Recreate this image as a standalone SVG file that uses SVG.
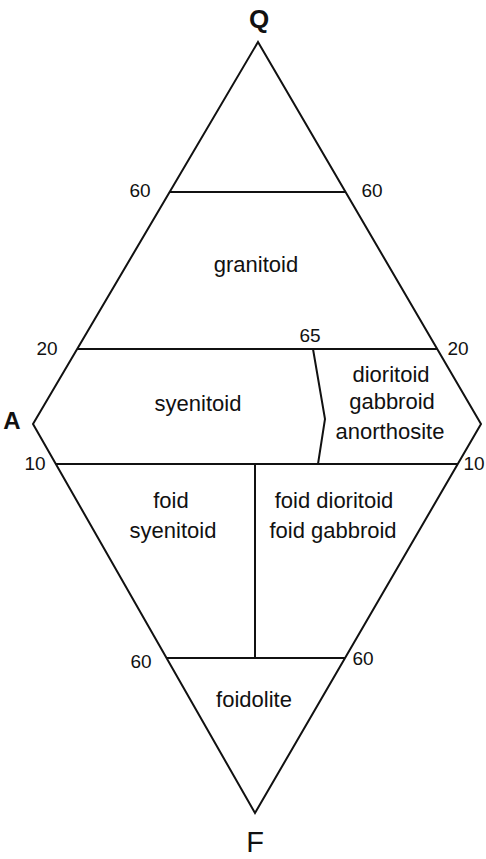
<svg xmlns="http://www.w3.org/2000/svg" width="486" height="859" viewBox="0 0 486 859">
<style>
.ln{fill:none;stroke:#111;stroke-width:2;stroke-linejoin:miter}
.lbl{font-family:"Liberation Sans",Arial,sans-serif;font-size:22px;fill:#111;text-anchor:middle}
.num{font-family:"Liberation Sans",Arial,sans-serif;font-size:19px;fill:#111;text-anchor:middle}
.apex{font-family:"Liberation Sans",Arial,sans-serif;fill:#111;text-anchor:middle}
</style>
<rect width="486" height="859" fill="#fff"/>
<g id="connectors">
<polygon class="ln" points="258,42 481,424 255,813 33,424"/>
<line class="ln" x1="170" y1="192" x2="346" y2="192"/>
<line class="ln" x1="77" y1="349" x2="437" y2="349"/>
<line class="ln" x1="56" y1="464" x2="458" y2="464"/>
<line class="ln" x1="167" y1="658" x2="345" y2="658"/>
<polyline class="ln" points="313,349 325,419 318,464"/>
<line class="ln" x1="255" y1="464" x2="255" y2="658"/>
</g>
<g id="apex-Q"><text class="apex" x="259" y="28" font-size="26" font-weight="bold">Q</text></g>
<g id="apex-A"><text class="apex" x="12" y="429" font-size="24" font-weight="bold">A</text></g>
<g id="apex-F"><text class="apex" x="255" y="852" font-size="29">F</text></g>
<g id="granitoid"><text class="lbl" x="256" y="272">granitoid</text></g>
<g id="syenitoid"><text class="lbl" x="198" y="411">syenitoid</text></g>
<g id="dioritoid"><text class="lbl" x="391" y="382">dioritoid</text><text class="lbl" x="392" y="409">gabbroid</text><text class="lbl" x="390" y="439">anorthosite</text></g>
<g id="foid-syenitoid"><text class="lbl" x="171" y="508">foid</text><text class="lbl" x="173" y="538">syenitoid</text></g>
<g id="foid-dioritoid"><text class="lbl" x="334" y="508">foid dioritoid</text><text class="lbl" x="333" y="538">foid gabbroid</text></g>
<g id="foidolite"><text class="lbl" x="254" y="707">foidolite</text></g>
<g id="ticks">
<text class="num" x="140" y="197">60</text>
<text class="num" x="372" y="197">60</text>
<text class="num" x="47" y="355">20</text>
<text class="num" x="458" y="355">20</text>
<text class="num" x="310" y="342">65</text>
<text class="num" x="35" y="470">10</text>
<text class="num" x="474" y="470">10</text>
<text class="num" x="141" y="668">60</text>
<text class="num" x="363" y="665">60</text>
</g>
</svg>
